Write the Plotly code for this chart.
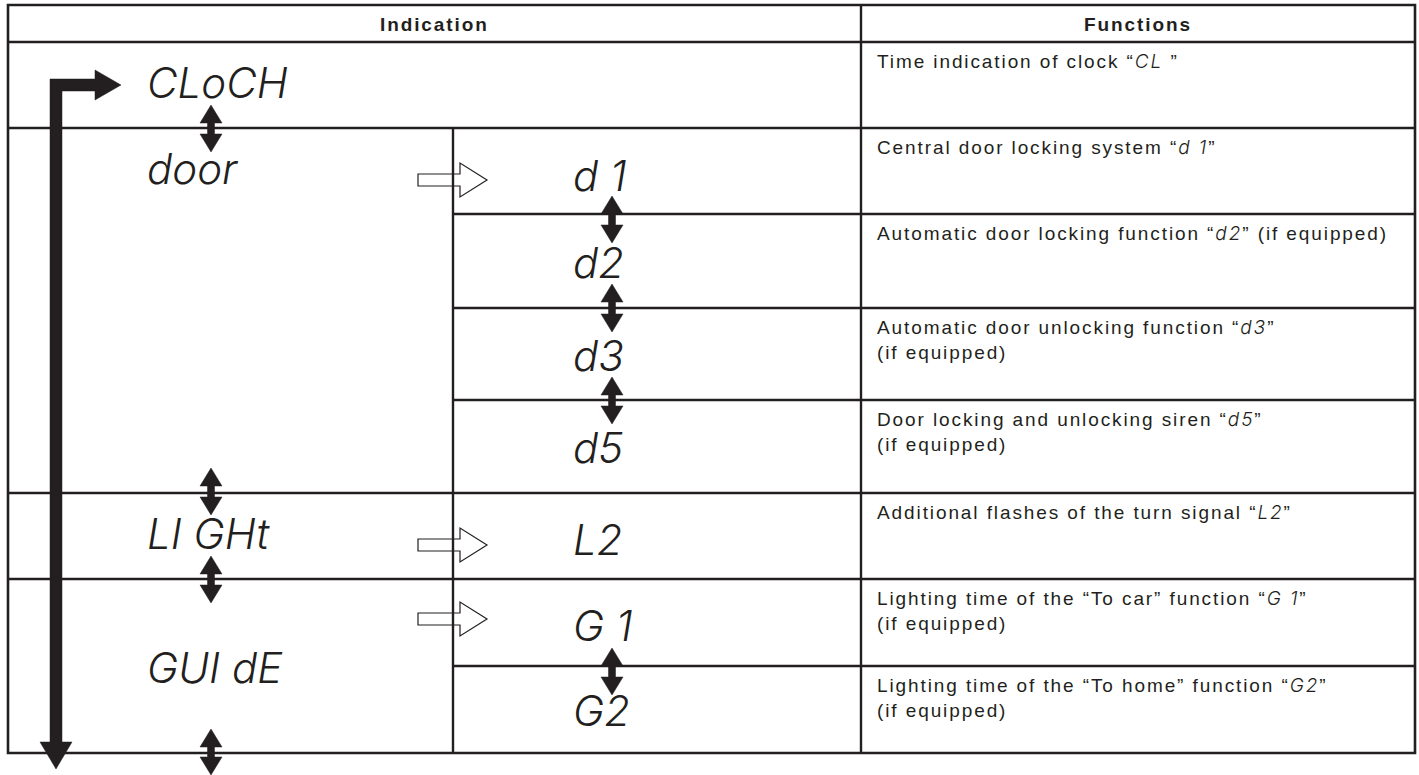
import plotly.graph_objects as go

# ---------------- data ----------------
headers = ["Indication", "Functions"]
menu_items = ["CLoCH", "door", "LI GHt", "GUI dE"]
sub_items = ["d 1", "d2", "d3", "d5", "L2", "G 1", "G2"]
func_main = [
    "Time indication of clock",
    "Central door locking system",
    "Automatic door locking function",
    "Automatic door unlocking function",
    "Door locking and unlocking siren",
    "Additional flashes of the turn signal",
    "Lighting time of the \u201cTo car\u201d function",
    "Lighting time of the \u201cTo home\u201d function",
]
func_codes = ["CL ", "d 1", "d2", "d3", "d5", "L2", "G 1", "G2"]
func_inline_note = ["", "", " (if equipped)", "", "", "", "", ""]
func_second_line = ["", "", "", "(if equipped)", "(if equipped)", "", "(if equipped)", "(if equipped)"]

# ---------------- layout geometry (page pixel space) ----------------
W, H = 1419, 775
XL, XR = 8, 1415          # outer border
XIN, XFN = 453, 861       # inner divider, functions divider
YT, YHD, YB = 5, 42, 753  # top, header line, bottom
row_lines = [42, 128, 214, 308, 400, 493, 579, 666, 753]
full_lines = {128, 493, 579}
menu_x = 147
menu_y = [87, 173, 538, 672]
sub_x = 573
sub_y = [180, 267, 360, 452, 544, 630, 715]
dbl_arrows = [(211, 105, 152), (612, 196, 243), (612, 284, 332), (612, 377, 424),
              (211, 468, 515), (211, 556, 603), (612, 648, 695), (211, 729, 775)]
open_arrows_y = [180, 545, 619]

INK = "#231f20"
SEG = "font-family:Inter;font-style:italic;font-weight:300"
TXT_FONT = "Liberation Sans, Arial, sans-serif"
LS = "letter-spacing:1.9px"

fig = go.Figure()
shapes = []

# open (outlined) arrows
for cy in open_arrows_y:
    p = (f"M 418,{cy-6} L 460,{cy-6} L 460,{cy-17} L 487,{cy} L 460,{cy+17} "
         f"L 460,{cy+6} L 418,{cy+6} Z")
    shapes.append(dict(type="path", path=p, fillcolor="white",
                       line=dict(color=INK, width=1.2)))

# table lines
def hline(y, x0, x1):
    shapes.append(dict(type="line", x0=x0, x1=x1, y0=y, y1=y,
                       line=dict(color=INK, width=2.4)))

def vline(x, y0, y1):
    shapes.append(dict(type="line", x0=x, x1=x, y0=y0, y1=y1,
                       line=dict(color=INK, width=2.4)))

shapes.append(dict(type="rect", x0=XL, x1=XR, y0=YT, y1=YB,
                   line=dict(color=INK, width=2.6)))
for y in row_lines[:-1]:
    if y == YHD or y in full_lines:
        hline(y, XL, XR)
    else:
        hline(y, XIN, XR)
vline(XFN, YT, YB)
vline(XIN, 128, YB)

# big L-shaped loop arrow
big = ("M 50,742 L 50,79 L 95,79 L 95,70 L 121,85 L 95,100 L 95,91 L 62,91 "
       "L 62,742 L 72,742 L 56,769 L 40,742 Z")
shapes.append(dict(type="path", path=big, fillcolor=INK, line=dict(color=INK, width=0.5)))

# double-headed arrows
for cx, y0, y1 in dbl_arrows:
    hh, hw, sw = 18, 11, 3.5
    p = (f"M {cx},{y0} L {cx+hw},{y0+hh} L {cx+sw},{y0+hh} L {cx+sw},{y1-hh} "
         f"L {cx+hw},{y1-hh} L {cx},{y1} L {cx-hw},{y1-hh} L {cx-sw},{y1-hh} "
         f"L {cx-sw},{y0+hh} L {cx-hw},{y0+hh} Z")
    shapes.append(dict(type="path", path=p, fillcolor=INK, line=dict(color=INK, width=0.5)))

annotations = []
# headers
for txt, cx in zip(headers, [(XL + XFN) / 2, (XFN + XR) / 2]):
    annotations.append(dict(x=cx, y=(YT + YHD) / 2 + 1,
                            text=f'<span style="{LS}"><b>{txt}</b></span>',
                            showarrow=False, xanchor="center", yanchor="middle",
                            font=dict(family=TXT_FONT, size=19, color=INK)))

# function descriptions
for i, (m, c, n, s2) in enumerate(zip(func_main, func_codes, func_inline_note, func_second_line)):
    top = row_lines[i]
    second = f"<br>{s2}" if s2 else ""
    t = (f'<span style="{LS}">{m} \u201c<span style="{SEG}">{c}</span>\u201d{n}'
         f'{second}</span>')
    annotations.append(dict(x=875, y=top + 6, text=t, showarrow=False,
                            xanchor="left", yanchor="top", align="left",
                            font=dict(family=TXT_FONT, size=19, color=INK)))

# display indications (seven-segment style text)
fig.add_trace(go.Scatter(x=[menu_x] * len(menu_items), y=menu_y, mode="text",
                         text=menu_items,
                         textposition="middle right", hoverinfo="skip",
                         textfont=dict(family="Inter", size=42, color=INK, style="italic", weight=300)))
fig.add_trace(go.Scatter(x=[sub_x] * len(sub_items), y=sub_y, mode="text",
                         text=sub_items,
                         textposition="middle right", hoverinfo="skip",
                         textfont=dict(family="Inter", size=42, color=INK, style="italic", weight=300)))

fig.update_layout(
    width=W, height=H, margin=dict(l=0, r=0, t=0, b=0, pad=0),
    paper_bgcolor="white", plot_bgcolor="white", showlegend=False,
    xaxis=dict(range=[0, W], visible=False, fixedrange=True),
    yaxis=dict(range=[H, 0], visible=False, fixedrange=True),
    shapes=shapes, annotations=annotations,
)
fig.write_html("out.html", config={"displayModeBar": False, "staticPlot": True},
               post_script="document.body.style.margin='0';document.body.style.overflow='hidden';")
